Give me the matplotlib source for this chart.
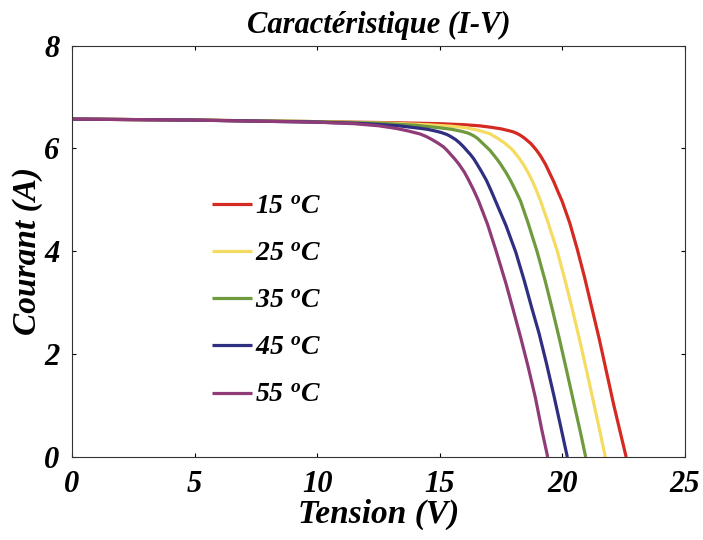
import matplotlib
matplotlib.use("Agg")
import matplotlib.pyplot as plt

# valeurs : tension (V) et courant (A) pour chaque température
labels = ["15", "25", "35", "45", "55"]
colors = ["#d42a22", "#f4dc62", "#6f9a3e", "#2f2f82", "#8e3b78"]

v15 = [0, 5, 10, 13, 15, 16, 16.6, 17.1, 17.5, 17.85, 18.0, 18.15, 18.3, 18.45, 18.6, 18.7, 18.83,
       18.95, 19.1, 19.2, 19.31, 19.5, 19.65, 19.8, 19.99, 20.3, 20.6, 20.9, 21.2, 21.5, 21.8, 22.1,
       22.35, 22.6]
i15 = [6.57, 6.55, 6.52, 6.50, 6.48, 6.46, 6.44, 6.41, 6.38, 6.34, 6.32, 6.29, 6.25, 6.20, 6.14, 6.10, 6.03,
       5.96, 5.86, 5.78, 5.69, 5.50, 5.35, 5.18, 4.97, 4.55, 4.05, 3.50, 2.90, 2.30, 1.65, 1.00,
       0.50, 0]

v25 = [0, 5, 10, 13, 14.5, 15.5, 16.1, 16.5, 16.8, 16.95, 17.06, 17.2, 17.35, 17.5, 17.6, 17.75, 17.88,
       18.0, 18.1, 18.25, 18.42, 18.6, 18.76, 18.95, 19.1, 19.4, 19.78, 20.1, 20.4, 20.7, 21.0, 21.3,
       21.55, 21.75]
i25 = [6.57, 6.55, 6.52, 6.49, 6.46, 6.43, 6.40, 6.36, 6.32, 6.30, 6.28, 6.24, 6.20, 6.15, 6.12, 6.06, 6.01,
       5.95, 5.89, 5.80, 5.68, 5.53, 5.38, 5.17, 4.99, 4.58, 4.02, 3.45, 2.88, 2.28, 1.65, 1.00,
       0.45, 0]

v35 = [0, 5, 10, 12.5, 14, 15, 15.5, 15.9, 16.1, 16.24, 16.4, 16.55, 16.7, 16.9, 17.05, 17.2, 17.35,
       17.47, 17.7, 17.88, 18.1, 18.29, 18.6, 18.97, 19.3, 19.6, 19.9, 20.2, 20.5, 20.75, 20.95]
i35 = [6.57, 6.55, 6.52, 6.49, 6.45, 6.40, 6.37, 6.33, 6.305, 6.28, 6.24, 6.19, 6.12, 6.03, 5.96, 5.87, 5.78,
       5.70, 5.53, 5.38, 5.17, 4.98, 4.55, 3.99, 3.42, 2.85, 2.25, 1.62, 0.98, 0.45, 0]

v45 = [0, 5, 10, 12, 13.3, 14.2, 14.5, 14.8, 15.05, 15.29, 15.45, 15.65, 15.8, 15.97, 16.1, 16.25, 16.38,
       16.5, 16.7, 16.9, 17.1, 17.27, 17.7, 18.1, 18.45, 18.75, 19.05, 19.35, 19.65, 19.95, 20.2]
i45 = [6.57, 6.55, 6.51, 6.48, 6.44, 6.39, 6.37, 6.34, 6.31, 6.27, 6.23, 6.17, 6.11, 6.03, 5.96, 5.88, 5.80,
       5.71, 5.55, 5.38, 5.17, 4.98, 4.50, 3.98, 3.42, 2.90, 2.40, 1.82, 1.20, 0.55, 0]

v55 = [0, 5, 10, 11.5, 12.5, 13.2, 13.7, 13.95, 14.2, 14.45, 14.65, 14.9, 15.15, 15.3, 15.45, 15.6, 15.77,
       16.0, 16.17, 16.38, 16.58, 16.95, 17.3, 17.7, 18.0, 18.3, 18.6, 18.9, 19.15, 19.4]
i55 = [6.57, 6.55, 6.51, 6.48, 6.44, 6.39, 6.34, 6.31, 6.28, 6.23, 6.18, 6.11, 6.03, 5.96, 5.88, 5.80, 5.70,
       5.54, 5.39, 5.19, 4.98, 4.52, 4.00, 3.37, 2.85, 2.32, 1.76, 1.15, 0.55, 0]

tensions = [v15, v25, v35, v45, v55]
courants = [i15, i25, i35, i45, i55]

plt.rcParams['font.family'] = ['Liberation Serif', 'DejaVu Serif']
plt.rcParams['font.weight'] = 'bold'
plt.rcParams['font.style'] = 'italic'
plt.rcParams['mathtext.fontset'] = 'custom'
plt.rcParams['mathtext.it'] = 'Liberation Serif:bold:italic'
plt.rcParams['mathtext.rm'] = 'Liberation Serif:bold:italic'

fig = plt.figure(figsize=(7.03, 5.40), dpi=100)
ax = fig.add_axes([0.1024, 0.1537, 0.872, 0.762])

for v, i, c, lab in zip(tensions, courants, colors, labels):
    ax.plot(v, i, color=c, lw=2.3, label=lab + r"$\ ^{o}$C",
            solid_joinstyle='round', solid_capstyle='butt')

ax.set_xlim(0, 25)
ax.set_ylim(0, 8)
ax.set_xticks([0, 5, 10, 15, 20, 25])
ax.set_yticks([0, 2, 4, 6, 8])
ax.tick_params(direction='in', top=True, right=True, length=3, width=0.8,
               labelsize=22, pad=9)
for lbl in ax.get_xticklabels() + ax.get_yticklabels():
    lbl.set_fontweight('bold')
    lbl.set_fontstyle('italic')
for s in ax.spines.values():
    s.set_linewidth(0.8)
    s.set_color('#333333')

ax.set_xlabel("Tension (V)", fontsize=24, fontweight='bold', style='italic', labelpad=0)
ax.set_ylabel("Courant (A)", fontsize=24, fontweight='bold', style='italic', labelpad=1)
ax.set_title("Caractéristique (I-V)", fontsize=22, fontweight='bold', style='italic', pad=9)

ax.legend(loc='upper left', bbox_to_anchor=(0.187, 0.699), frameon=False,
          prop={'size': 20, 'weight': 'bold', 'style': 'italic'},
          handlelength=1.45, handletextpad=0.1, labelspacing=0.78)

fig.savefig("out.png", dpi=100)
